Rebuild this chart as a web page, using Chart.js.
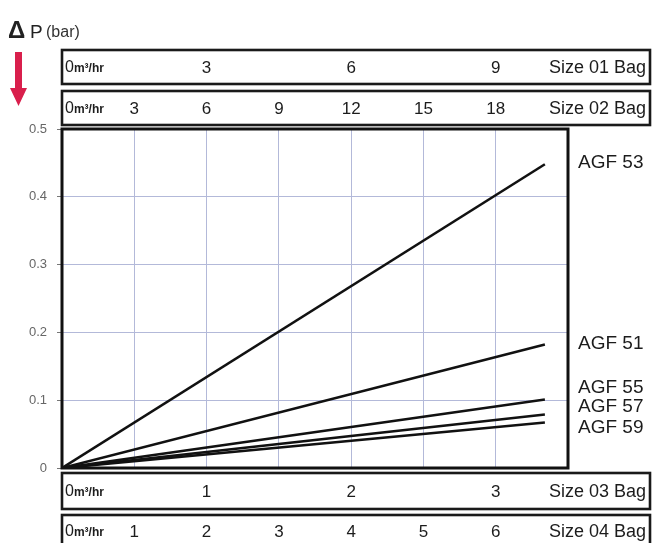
<!DOCTYPE html>
<html>
<head>
<meta charset="utf-8">
<script src="https://cdn.jsdelivr.net/npm/chart.js@4/dist/chart.umd.min.js"></script>
<style>
  html, body { margin: 0; padding: 0; background: #fff; }
  #wrap { width: 656px; height: 543px; }
</style>
</head>
<body>
<div id="wrap"><canvas id="myChart"></canvas></div>
<script>
// flow in m3/hr on the Size 04 scale (0..7)
const flow = [0, 6.68];

// pressure drop (bar)
const agf53 = [0, 0.448];
const agf51 = [0, 0.182];
const agf55 = [0, 0.101];
const agf57 = [0, 0.079];
const agf59 = [0, 0.067];

const seriesNames = ['AGF 53', 'AGF 51', 'AGF 55', 'AGF 57', 'AGF 59'];
// where each name sits on the pressure axis
const nameAt = [0.450, 0.183, 0.119, 0.090, 0.059];

// tick labels in the flow boxes
const size01Ticks = [3, 6, 9];
const size02Ticks = [3, 6, 9, 12, 15, 18];
const size03Ticks = [1, 2, 3];
const size04Ticks = [1, 2, 3, 4, 5, 6];

const pressureTicks = [0, 0.1, 0.2, 0.3, 0.4, 0.5];

const FONT = 'Liberation Sans, Arial, sans-serif';

function pts(ys) {
    return flow.map(function (x, i) { return { x: x, y: ys[i] }; });
}

const allSeries = [agf53, agf51, agf55, agf57, agf59];
const datasets = allSeries.map(function (s, i) {
    return {
        label: seriesNames[i],
        data: pts(s),
        borderColor: '#111',
        borderWidth: 2.6,
        pointRadius: 0,
        fill: false,
        xAxisID: 'x',
        yAxisID: 'y'
    };
});

// box rows: axis id, tick list, name, box top offset / height inside the scale
const rows = [
    { id: 'x1', ticks: size01Ticks, name: 'Size 01 Bag', off: 0, h: 34 },
    { id: 'x2', ticks: size02Ticks, name: 'Size 02 Bag', off: 0, h: 34 },
    { id: 'x3', ticks: size03Ticks, name: 'Size 03 Bag', off: 5, h: 36 },
    { id: 'x4', ticks: size04Ticks, name: 'Size 04 Bag', off: 0, h: 32 }
];

function boxAxis(pos, max, weight, height) {
    return {
        type: 'linear', position: pos, min: 0, max: max, weight: weight,
        grid: { display: false }, border: { display: false },
        ticks: { display: false },
        afterFit: function (s) { s.height = height; }
    };
}

const extras = {
    id: 'extras',
    afterDraw: function (chart) {
        const c = chart.ctx;
        const a = chart.chartArea;
        c.save();

        // plot frame
        c.strokeStyle = '#111';
        c.lineWidth = 3;
        c.strokeRect(a.left, a.top, a.right - a.left, a.bottom - a.top);

        // flow boxes
        rows.forEach(function (r) {
            const s = chart.scales[r.id];
            const top = s.top + r.off;
            c.strokeStyle = '#1a1a1a';
            c.lineWidth = 2.6;
            c.strokeRect(a.left, top, 650 - a.left, r.h);
            const mid = top + r.h / 2 + 1;
            c.fillStyle = '#1c1c1c';
            c.textBaseline = 'middle';
            // 0 m3/hr
            c.textAlign = 'left';
            c.font = '16px ' + FONT;
            c.fillText('0', a.left + 3, mid);
            const w0 = c.measureText('0').width;
            c.font = 'bold 12px ' + FONT;
            c.fillText('m³/hr', a.left + 3 + w0, mid + 1);
            // ticks
            c.textAlign = 'center';
            c.font = '17px ' + FONT;
            r.ticks.forEach(function (t) {
                c.fillText(String(t), s.getPixelForValue(t), mid);
            });
            c.textAlign = 'right';
            c.font = '18px ' + FONT;
            c.fillText(r.name, 646, mid);
        });

        // series names
        const y = chart.scales.y;
        c.fillStyle = '#1c1c1c';
        c.textAlign = 'left';
        c.textBaseline = 'middle';
        c.font = '19px ' + FONT;
        seriesNames.forEach(function (n, i) {
            c.fillText(n, a.right + 10, y.getPixelForValue(nameAt[i]));
        });

        // title
        c.fillStyle = '#222';
        c.textBaseline = 'alphabetic';
        c.textAlign = 'left';
        c.font = 'bold 24px ' + FONT;
        c.fillText('Δ', 8, 38);
        c.font = '19px ' + FONT;
        c.fillText('P', 30, 38);
        c.font = '16px ' + FONT;
        c.fillStyle = '#333';
        c.fillText('(bar)', 46, 37);

        // red arrow
        c.fillStyle = '#d91f4c';
        c.beginPath();
        c.moveTo(15, 52);
        c.lineTo(22, 52);
        c.lineTo(22, 88);
        c.lineTo(27, 88);
        c.lineTo(18.5, 106);
        c.lineTo(10, 88);
        c.lineTo(15, 88);
        c.closePath();
        c.fill();

        c.restore();
    }
};

new Chart(document.getElementById('myChart'), {
    type: 'line',
    data: { datasets: datasets },
    options: {
        responsive: true,
        maintainAspectRatio: false,
        animation: false,
        layout: { padding: { top: 50, right: 88, left: 0, bottom: 0 } },
        plugins: { legend: { display: false }, tooltip: { enabled: false } },
        scales: {
            x1: boxAxis('top', 10.5, 2, 41),
            x2: boxAxis('top', 21, 1, 38),
            x: {
                type: 'linear', position: 'bottom', min: 0, max: 7, weight: 0,
                grid: { color: '#b3b9d9', lineWidth: 1, drawTicks: false },
                border: { display: false },
                ticks: { display: false, stepSize: 1 },
                afterFit: function (s) { s.height = 0; }
            },
            x3: boxAxis('bottom', 3.5, 1, 47),
            x4: boxAxis('bottom', 7, 2, 28),
            y: {
                type: 'linear', position: 'left', min: 0, max: 0.5,
                afterBuildTicks: function (s) {
                    s.ticks = pressureTicks.map(function (v) { return { value: v }; });
                },
                grid: { color: '#b3b9d9', tickColor: '#777', tickLength: 5 },
                border: { display: false },
                ticks: {
                    color: '#666', padding: 10,
                    font: { family: FONT, size: 13 },
                    callback: function (v) { return String(v); }
                },
                afterFit: function (s) { s.width = 62; }
            }
        }
    },
    plugins: [extras]
});
</script>
</body>
</html>
